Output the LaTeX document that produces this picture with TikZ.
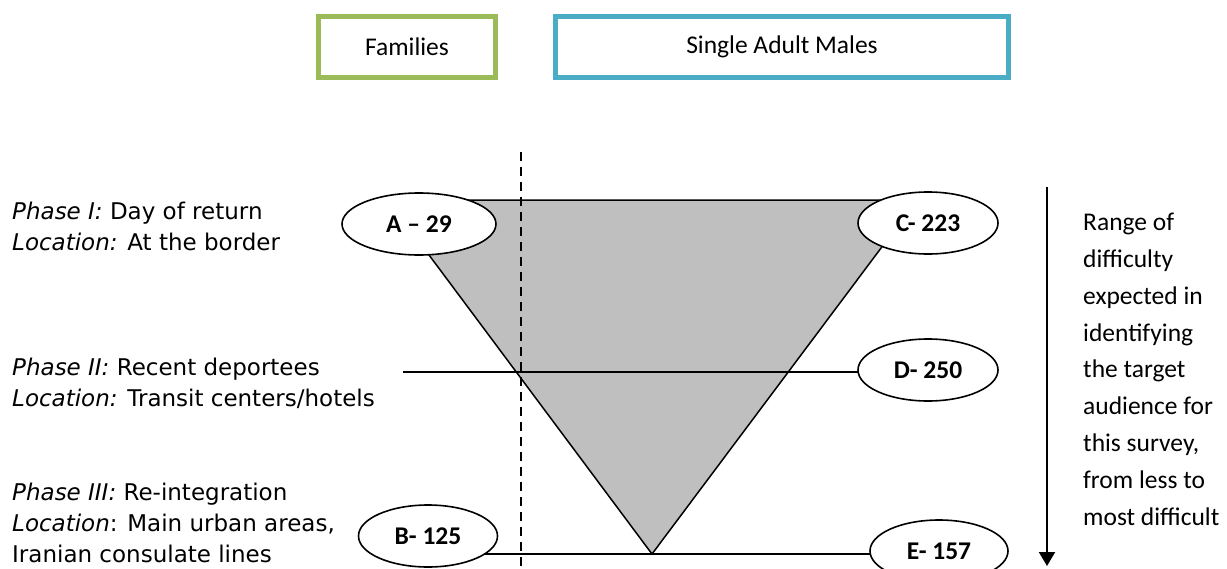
\documentclass[tikz,border=0pt]{standalone}
\usepackage{fontspec}
\setmainfont{Carlito}
\newfontfamily\dvfont{DejaVu Sans}
\usetikzlibrary{shapes.geometric,arrows.meta}
\pgfdeclarelayer{background}
\pgfsetlayers{background,main}
\definecolor{famgreen}{HTML}{9BBB59}
\definecolor{malblue}{HTML}{4BACC6}
\definecolor{trigray}{HTML}{BFBFBF}
\begin{document}
\begin{tikzpicture}[x=1pt,y=-1pt,
  catbox/.style={draw=#1,line width=5pt,minimum height=61pt,inner sep=0pt,
    font=\fontsize{25.5}{30}\selectfont},
  oval/.style={ellipse,draw,fill=white,line width=1.6pt,inner sep=0pt,
    minimum width=#1,minimum height=62pt,font=\bfseries\fontsize{25.5}{30}\selectfont},
  phasetext/.style={anchor=north west,align=left,inner sep=0pt,
    font=\dvfont\fontsize{23}{31}\selectfont},
  sidetext/.style={anchor=north west,align=left,inner sep=0pt,
    font=\fontsize{25.5}{36.8}\selectfont},
  thinline/.style={line width=1.5pt},
  dashline/.style={line width=2pt,dash pattern=on 9pt off 6pt},
]
\useasboundingbox (0,0) rectangle (1227,568);

% category boxes
\node[catbox=famgreen,minimum width=177pt] (fam) at (407,47) {Families};
\node[catbox=malblue,minimum width=453pt] (sam) at (782,47) {Single Adult Males};

% ovals
\node[oval=154pt] (A) at (419,224) {A -- 29};
\node[oval=140pt] (C) at (928,223) {C- 223};
\node[oval=140pt] (D) at (928,370) {D- 250};
\node[oval=139pt] (B) at (428,536) {B- 125};
\node[oval=138pt] (E) at (939,551) {E- 157};

% coordinates
\coordinate (tl) at (388,200);
\coordinate (tr) at (917,200);
\coordinate (apex) at (652,554);
\coordinate (p2) at (403,372);
\coordinate (dtop) at (521,152);
\coordinate (dbot) at (521,570);
\coordinate (arrtop) at (1047,187);
\coordinate (arrbot) at (1047,566);

\begin{pgfonlayer}{background}
  \draw[thinline,fill=trigray,line join=miter] (tl) -- (tr) -- (apex) -- cycle;
  \draw[thinline] (p2) -- (D.center |- p2);
  \draw[thinline] (B.center |- apex) -- (apex) -- (E.center |- apex);
  \draw[dashline] (dtop) -- (dbot);
\end{pgfonlayer}

% difficulty arrow
\draw[line width=2pt,-{Triangle[width=16pt,length=14pt]}] (arrtop) -- (arrbot);

% phase texts
\node[phasetext] (ph1) at (12,201.5) {\textit{Phase I:} Day of return\\\textit{Location:} At the border};
\node[phasetext] (ph2) at (12,357.5) {\textit{Phase II:} Recent deportees\\\textit{Location:} Transit centers/hotels};
\node[phasetext] (ph3) at (12,482.5) {\textit{Phase III:} Re-integration\\\textit{Location}: Main urban areas,\\Iranian consulate lines};

% side text
\node[sidetext] (side) at (1083,213) {Range of\\difficulty\\expected in\\identifying\\the target\\audience for\\this survey,\\from less to\\most difficult};
\end{tikzpicture}
\end{document}
